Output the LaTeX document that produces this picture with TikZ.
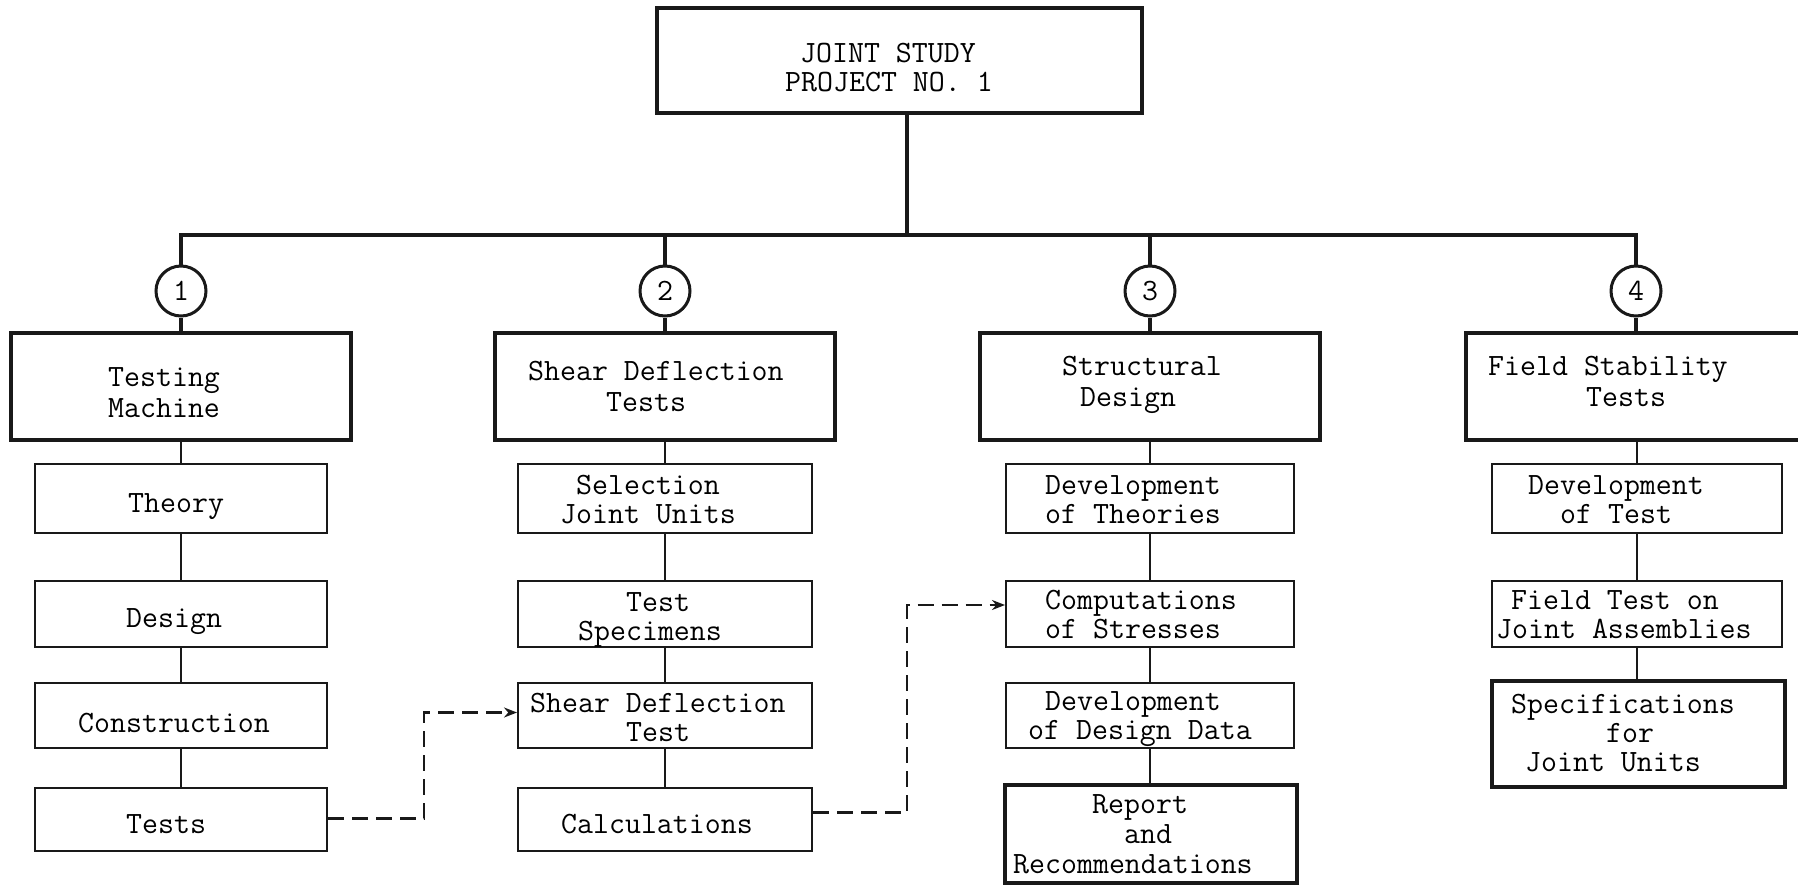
\documentclass[tikz,border=0pt]{standalone}
\usetikzlibrary{arrows.meta}
\begin{document}
\begin{tikzpicture}[x=1pt, y=-1pt,
  heavy/.style={draw=black!90, line width=4pt, inner sep=0pt},
  light/.style={draw=black!90, line width=2pt, inner sep=0pt},
  lone/.style={heavy, minimum width=340pt, minimum height=107pt},
  num/.style={circle, draw=black!90, line width=3pt, minimum size=50pt, inner sep=0pt,
              font=\fontsize{31}{31}\selectfont\ttfamily},
  % anchored on the baseline of the last line of each label
  lab/.style={inner sep=0pt, anchor=base west, align=left,
              font=\fontsize{31}{29}\selectfont\ttfamily},
  labi/.style={lab, font=\fontsize{31}{31}\selectfont\ttfamily},
  bus/.style={draw=black!90, line width=4.5pt},
  link/.style={draw=black!90, line width=2pt},
  feed/.style={draw=black!90, line width=2.5pt, dash pattern=on 16pt off 8pt,
               -{Stealth[length=13pt, width=10pt]}}]
\useasboundingbox (0,0) rectangle (1798,886);

% project box
\node[heavy, minimum width=485pt, minimum height=105pt] (top) at (899.5,60.5) {};
\node[lab, font=\fontsize{31}{29}\selectfont\ttfamily] (top-t) at (785,91)
  {\hspace*{15pt}JOINT STUDY\\PROJECT NO. 1};

% numbered branches
\node[num] (c1) at (181,291) {1};
\node[num] (c2) at (665,291) {2};
\node[num] (c3) at (1150,291) {3};
\node[num] (c4) at (1636,291) {4};

% first level boxes
\node[lone] (b1) at (181,386.5) {};
\node[lone] (b2) at (665,386.5) {};
\node[lone] (b3) at (1150,386.5) {};
\node[lone] (b4) at (1636,386.5) {};
\node[labi] (b1-t) at (108,417) {Testing\\Machine};
\node[labi] (b2-t) at (528,411) {Shear Deflection\\\hspace*{78pt}Tests};
\node[labi] (b3-t) at (1062,406) {Structural\\\hspace*{18pt}Design};
\node[labi] (b4-t) at (1488,406) {Field Stability\\\hspace*{98pt}Tests};

% column 1
\node[light, minimum width=292pt, minimum height=69pt] (a11) at (181,498.5) {};
\node[light, minimum width=292pt, minimum height=66pt] (a12) at (181,614) {};
\node[light, minimum width=292pt, minimum height=65pt] (a13) at (181,715.5) {};
\node[light, minimum width=292pt, minimum height=63pt] (a14) at (181,819.5) {};
\node[lab] (a11-t) at (128,512) {Theory};
\node[lab] (a12-t) at (126,627) {Design};
\node[lab] (a13-t) at (78,732) {Construction};
\node[lab] (a14-t) at (126,833) {Tests};

% column 2
\node[light, minimum width=294pt, minimum height=69pt] (a21) at (665,498.5) {};
\node[light, minimum width=294pt, minimum height=66pt] (a22) at (665,614) {};
\node[light, minimum width=294pt, minimum height=65pt] (a23) at (665,715.5) {};
\node[light, minimum width=294pt, minimum height=63pt] (a24) at (665,819.5) {};
\node[lab] (a21-t) at (560,523) {\hspace*{16pt}Selection\\Joint Units};
\node[lab] (a22-t) at (578,640) {\hspace*{48pt}Test\\Specimens};
\node[lab] (a23-t) at (530,741) {Shear Deflection\\\hspace*{96pt}Test};
\node[lab] (a24-t) at (561,833) {Calculations};

% column 3
\node[light, minimum width=288pt, minimum height=69pt] (a31) at (1150,498.5) {};
\node[light, minimum width=288pt, minimum height=66pt] (a32) at (1150,614) {};
\node[light, minimum width=288pt, minimum height=65pt] (a33) at (1150,715.5) {};
\node[heavy, minimum width=292pt, minimum height=98pt] (a34) at (1151,834) {};
\node[lab] (a31-t) at (1045,523) {Development\\of Theories};
\node[lab] (a32-t) at (1045,638) {Computations\\of Stresses};
\node[lab] (a33-t) at (1028,739) {\hspace*{17pt}Development\\of Design Data};
\node[lab, font=\fontsize{31}{30}\selectfont\ttfamily] (a34-t) at (1013,873)
  {\hspace*{79pt}Report\\\hspace*{111pt}and\\Recommendations};

% column 4
\node[light, minimum width=290pt, minimum height=69pt] (a41) at (1637,498.5) {};
\node[light, minimum width=290pt, minimum height=66pt] (a42) at (1637,614) {};
\node[heavy, minimum width=293pt, minimum height=106pt] (a43) at (1638.5,734) {};
\node[lab] (a41-t) at (1528,523) {Development\\\hspace*{32pt}of Test};
\node[lab] (a42-t) at (1496,638) {\hspace*{15pt}Field Test on\\Joint Assemblies};
\node[lab] (a43-t) at (1511,771) {Specifications\\\hspace*{95pt}for\\\hspace*{14pt}Joint Units};

% trunk and bus
\coordinate (j) at (907,235);
\draw[bus] (top.south -| j) -- (j);
\draw[bus, line cap=rect] (c1 |- j) -- (c4 |- j);
\foreach \i in {1,2,3,4} {
  \draw[bus] (c\i |- j) -- (c\i.north);
  \draw[bus] (c\i.south) -- (b\i.north);
}

% columns
\draw[link] (b1.south) -- (a11.north);
\draw[link] (a11.south) -- (a12.north);
\draw[link] (a12.south) -- (a13.north);
\draw[link] (a13.south) -- (a14.north);
\draw[link] (b2.south) -- (a21.north);
\draw[link] (a21.south) -- (a22.north);
\draw[link] (a22.south) -- (a23.north);
\draw[link] (a23.south) -- (a24.north);
\draw[link] (b3.south) -- (a31.north);
\draw[link] (a31.south) -- (a32.north);
\draw[link] (a32.south) -- (a33.north);
\draw[link] (a33.south) -- (a33.south |- a34.north);
\draw[link] (b4.south -| a41.north) -- (a41.north);
\draw[link] (a41.south) -- (a42.north);
\draw[link] (a42.south) -- (a43.north -| a42.south);

% dashed feeds between columns
\coordinate (k1) at (424,0);
\coordinate (k2) at (907,0);
\draw[feed] ([yshift=1pt]a14.east) -- ([yshift=1pt]a14.east -| k1) |- ([yshift=3pt]a23.west);
\draw[feed] ([yshift=7pt]a24.east) -- ([yshift=7pt]a24.east -| k2) |- ([yshift=9pt]a32.west);
\end{tikzpicture}
\end{document}
